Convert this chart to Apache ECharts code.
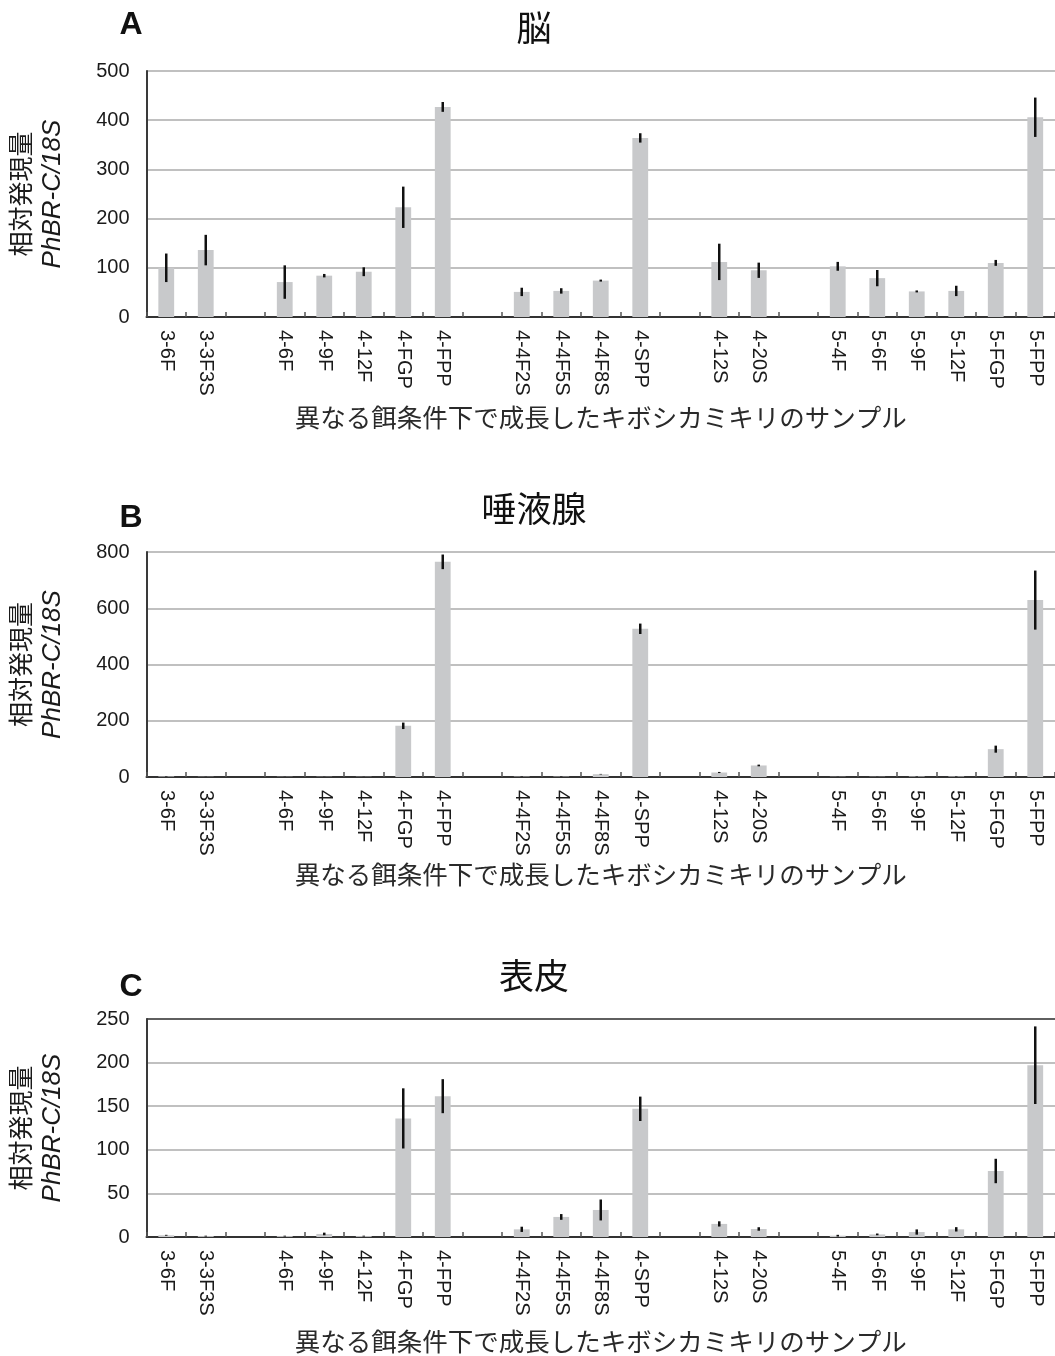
<!DOCTYPE html>
<html>
<head>
<meta charset="utf-8">
<script src="https://cdn.jsdelivr.net/npm/echarts@6/dist/echarts.min.js"></script>
<style>
  html, body { margin: 0; padding: 0; background: #fff; }
  #chart { width: 1055px; height: 1356px; }
</style>
</head>
<body>
<div id="chart"></div>
<script>
// Sample groups; empty strings are spacer slots between feeding groups
const samples = ['3-6F', '3-3F3S', '', '4-6F', '4-9F', '4-12F', '4-FGP', '4-FPP', '',
  '4-4F2S', '4-4F5S', '4-4F8S', '4-SPP', '', '4-12S', '4-20S', '',
  '5-4F', '5-6F', '5-9F', '5-12F', '5-FGP', '5-FPP'];

// Brain (脳)
const brainMean = [100, 136, null, 71, 84, 92, 223, 427, null, 51, 53, 74, 364, null, 112, 95, null, 103, 79, 52, 53, 110, 406];
const brainErr  = [29, 31, null, 34, 3.5, 9, 42, 10, null, 8.5, 5.5, 2, 9.5, null, 37, 15.5, null, 9, 16.5, 2, 10.5, 6, 40];

// Salivary gland (唾液腺)
const salivaMean = [2, 1, null, 1, 1, 1, 182, 765, null, 1.5, 1.5, 10, 527, null, 16, 41, null, 1, 1, 2, 2, 99, 629];
const salivaErr  = [1, 0.5, null, 0.5, 0.5, 0.5, 11.5, 26, null, 1, 1, 1, 18.5, null, 2, 3, null, 0.5, 0.5, 1, 1, 12.5, 105];

// Epidermis (表皮)
const epiMean = [2, 1, null, 1, 3.5, 1, 136, 161.5, null, 8.8, 23, 31, 147, null, 15, 9.2, null, 1.5, 3, 5.7, 8.8, 75.7, 197];
const epiErr  = [0.5, 0.5, null, 0.5, 1.5, 0.5, 34.5, 19.5, null, 3, 3.3, 12, 14, null, 3, 2, null, 1, 1, 3, 2.5, 14, 44.5];

// Y axis ranges
const yMax = [500, 800, 250];
const yStep = [100, 200, 50];

const panelLetters = ['A', 'B', 'C'];
const panelTitles = ['脳', '唾液腺', '表皮'];
const yName1 = '相対発現量';
const yName2 = 'PhBR-C/18S';
const xName = '異なる餌条件下で成長したキボシカミキリのサンプル';

const latin = '"Liberation Sans", Arial, Helvetica, sans-serif';
const cjk = '"Noto Sans CJK JP", "Noto Sans CJK SC", sans-serif';

const panels = [
  { mean: brainMean, err: brainErr, top: 71, height: 246, xGap: 88, letterY: 25, titleY: 28 },
  { mean: salivaMean, err: salivaErr, top: 552, height: 225, xGap: 85, letterY: 518, titleY: 509 },
  { mean: epiMean, err: epiErr, top: 1019, height: 218, xGap: 92, letterY: 987, titleY: 976 }
];

const grids = [], xAxes = [], yAxes = [], series = [], graphics = [];

panels.forEach((p, i) => {
  grids.push({ left: 144, top: p.top, width: 913, height: p.height, containLabel: false });

  xAxes.push({
    type: 'category', gridIndex: i, data: samples,
    boundaryGap: true,
    axisLine: { lineStyle: { color: '#333', width: 2 } },
    axisTick: { show: true, inside: true, length: 5, interval: 0, alignWithLabel: false,
      lineStyle: { color: '#555', width: 1.5 } },
    axisLabel: { interval: 0, rotate: -90, margin: 13, fontSize: 20, color: '#1a1a1a', fontFamily: latin },
    name: xName, nameLocation: 'middle', nameGap: p.xGap,
    nameTextStyle: { fontSize: 25.5, color: '#2a2a2a', fontFamily: cjk }
  });

  const nLines = yMax[i] / yStep[i] + 1;
  const splitColors = [];
  for (let k = 0; k < nLines; k++) splitColors.push('#ababab');
  if (i === 2) splitColors[nLines - 1] = '#2a2a2a';

  yAxes.push({
    type: 'value', gridIndex: i, min: 0, max: yMax[i], interval: yStep[i],
    axisLine: { show: true, lineStyle: { color: '#3a3a3a', width: 2 } },
    axisTick: { show: false },
    axisLabel: { fontSize: 20, color: '#1a1a1a', margin: 17, fontFamily: latin },
    splitLine: { show: true, lineStyle: { color: splitColors, width: 1.6 } },
    name: '{a|' + yName1 + '}\n{b|' + yName2 + '}',
    nameLocation: 'middle', nameRotate: 90, nameGap: 78,
    nameTextStyle: {
      rich: {
        a: { fontSize: 25, fontFamily: cjk, color: '#1a1a1a', lineHeight: 32 },
        b: { fontSize: 26, fontFamily: latin, fontStyle: 'italic', color: '#1a1a1a', lineHeight: 32 }
      }
    }
  });

  series.push({
    type: 'bar', xAxisIndex: i, yAxisIndex: i, data: p.mean,
    barWidth: '40%', itemStyle: { color: '#c8c9cb' }, silent: true
  });

  const errData = [];
  p.mean.forEach((m, k) => {
    if (m !== null && p.err[k] !== null) errData.push([k, Math.max(0, m - p.err[k]), m + p.err[k]]);
  });
  series.push({
    type: 'custom', xAxisIndex: i, yAxisIndex: i, data: errData, silent: true, z: 5,
    renderItem: function (params, api) {
      const lo = api.coord([api.value(0), api.value(1)]);
      const hi = api.coord([api.value(0), api.value(2)]);
      return {
        type: 'line',
        shape: { x1: lo[0], y1: lo[1], x2: hi[0], y2: hi[1] },
        style: { stroke: '#111', lineWidth: 2.5 }
      };
    }
  });

  graphics.push({
    type: 'text', x: 131, y: p.letterY,
    style: { text: panelLetters[i], font: 'bold 32px ' + latin, fill: '#111',
      textAlign: 'center', textVerticalAlign: 'middle' }
  });
  graphics.push({
    type: 'text', x: 534, y: p.titleY,
    style: { text: panelTitles[i], font: '35px ' + cjk, fill: '#111',
      textAlign: 'center', textVerticalAlign: 'middle' }
  });
});

const chart = echarts.init(document.getElementById('chart'), null, { renderer: 'canvas' });
chart.setOption({
  animation: false,
  backgroundColor: '#fff',
  grid: grids,
  xAxis: xAxes,
  yAxis: yAxes,
  series: series,
  graphic: graphics
});
</script>
</body>
</html>
